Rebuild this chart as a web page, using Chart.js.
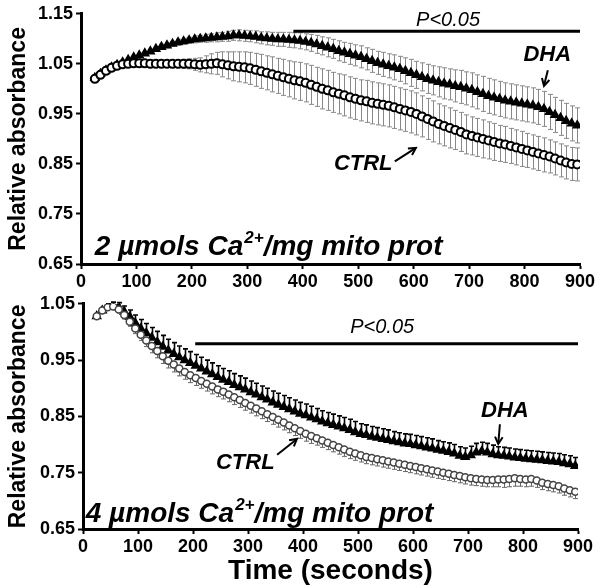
<!DOCTYPE html>
<html><head><meta charset="utf-8">
<script src="https://cdn.jsdelivr.net/npm/chart.js@4.4.1/dist/chart.umd.min.js"></script>
<style>
html,body{margin:0;padding:0;background:#fff;width:602px;height:588px;overflow:hidden}
#c1{position:absolute;left:0;top:0}
#c2{position:absolute;left:0;top:290px}
</style></head><body>
<canvas id="c1" width="602" height="290"></canvas>
<canvas id="c2" width="602" height="298"></canvas>
<script>
const FAM = '"Liberation Sans", Arial, sans-serif';

const times = [25,35,45,55,65,75,85,95,105,115,
  125,135,145,155,165,175,185,195,205,215,
  225,235,245,255,265,275,285,295,305,315,
  325,335,345,355,365,375,385,395,405,415,
  425,435,445,455,465,475,485,495,505,515,
  525,535,545,555,565,575,585,595,605,615,
  625,635,645,655,665,675,685,695,705,715,
  725,735,745,755,765,775,785,795,805,815,
  825,835,845,855,865,875,885,895];

const topCtrl = [1.020,1.028,1.036,1.042,1.046,1.049,1.050,1.051,1.051,1.051,
  1.050,1.050,1.050,1.050,1.050,1.050,1.050,1.050,1.049,1.048,
  1.049,1.050,1.051,1.049,1.047,1.045,1.044,1.043,1.041,1.038,
  1.035,1.032,1.029,1.026,1.023,1.020,1.017,1.015,1.012,1.008,
  1.004,1.000,0.997,0.993,0.990,0.987,0.983,0.980,0.977,0.975,
  0.972,0.970,0.968,0.966,0.963,0.960,0.957,0.954,0.950,0.945,
  0.940,0.935,0.930,0.926,0.922,0.918,0.914,0.909,0.906,0.903,
  0.900,0.897,0.894,0.891,0.889,0.886,0.883,0.880,0.877,0.874,
  0.871,0.868,0.865,0.861,0.857,0.853,0.850,0.849];
const topCtrlErr = [.004,.004,.004,.004,.004,.005,.005,.005,.005,.005,
  .005,.005,.006,.006,.007,.008,.009,.010,.012,.014,
  .017,.020,.022,.025,.027,.029,.030,.031,.032,.033,
  .034,.034,.035,.035,.036,.036,.037,.038,.038,.039,
  .039,.040,.040,.040,.040,.041,.041,.041,.041,.042,
  .042,.042,.042,.042,.042,.042,.042,.042,.042,.041,
  .041,.041,.040,.040,.040,.039,.039,.039,.038,.038,
  .038,.037,.037,.036,.036,.035,.035,.035,.034,.034,
  .034,.034,.033,.033,.033,.033,.033,.033];
const topDha = [1.022,1.030,1.037,1.043,1.048,1.053,1.058,1.063,1.067,1.071,
  1.075,1.080,1.084,1.087,1.090,1.093,1.095,1.097,1.099,1.100,
  1.101,1.102,1.103,1.104,1.105,1.107,1.107,1.106,1.105,1.104,
  1.102,1.101,1.100,1.099,1.099,1.098,1.097,1.096,1.094,1.092,
  1.089,1.086,1.083,1.080,1.076,1.073,1.070,1.067,1.064,1.060,
  1.056,1.052,1.049,1.046,1.043,1.040,1.036,1.032,1.028,1.024,
  1.020,1.017,1.014,1.011,1.009,1.006,1.004,1.001,0.998,0.994,
  0.990,0.986,0.983,0.980,0.977,0.975,0.973,0.971,0.969,0.967,
  0.964,0.960,0.954,0.948,0.942,0.936,0.931,0.927];
const topDhaErr = [.003,.003,.003,.003,.003,.003,.003,.004,.004,.004,
  .004,.005,.005,.005,.005,.006,.006,.006,.007,.007,
  .008,.008,.009,.009,.010,.010,.011,.011,.011,.012,
  .012,.013,.013,.014,.014,.015,.015,.016,.016,.017,
  .018,.018,.019,.019,.020,.020,.021,.021,.022,.022,
  .023,.023,.024,.024,.025,.025,.026,.027,.027,.028,
  .029,.029,.030,.031,.031,.032,.033,.033,.034,.034,
  .035,.035,.035,.035,.035,.035,.035,.035,.035,.035,
  .035,.035,.035,.035,.035,.035,.035,.035];

const botCtrl = [1.028,1.038,1.044,1.045,1.040,1.030,1.018,1.006,0.995,0.985,
  0.975,0.966,0.957,0.949,0.942,0.935,0.929,0.923,0.918,0.913,
  0.908,0.903,0.898,0.894,0.889,0.884,0.879,0.874,0.869,0.864,
  0.859,0.854,0.849,0.844,0.839,0.834,0.829,0.824,0.819,0.815,
  0.811,0.807,0.803,0.799,0.795,0.791,0.787,0.784,0.781,0.778,
  0.776,0.774,0.772,0.770,0.768,0.766,0.764,0.762,0.760,0.758,
  0.756,0.754,0.752,0.750,0.748,0.746,0.744,0.742,0.740,0.739,
  0.738,0.737,0.737,0.738,0.738,0.739,0.740,0.739,0.738,0.739,
  0.736,0.732,0.730,0.728,0.726,0.722,0.719,0.716];
const botCtrlErr = [.002,.003,.004,.005,.006,.007,.008,.009,.010,.011,
  .012,.012,.013,.013,.013,.013,.013,.013,.013,.013,
  .013,.013,.013,.013,.013,.013,.013,.013,.013,.013,
  .013,.013,.013,.013,.013,.013,.013,.013,.013,.013,
  .012,.012,.012,.012,.012,.012,.012,.012,.012,.012,
  .012,.012,.012,.012,.012,.012,.012,.012,.012,.012,
  .012,.012,.012,.012,.012,.012,.012,.012,.012,.012,
  .012,.012,.012,.013,.014,.014,.014,.013,.013,.013,
  .012,.012,.012,.012,.012,.012,.012,.012];
const botDha = [1.028,1.038,1.045,1.047,1.044,1.036,1.027,1.016,1.006,0.998,
  0.990,0.982,0.974,0.967,0.961,0.955,0.950,0.945,0.940,0.935,
  0.930,0.925,0.920,0.915,0.911,0.906,0.902,0.898,0.893,0.889,
  0.884,0.880,0.875,0.871,0.867,0.863,0.859,0.855,0.852,0.848,
  0.845,0.841,0.838,0.835,0.832,0.829,0.826,0.822,0.819,0.817,
  0.814,0.812,0.810,0.808,0.806,0.804,0.802,0.801,0.799,0.797,
  0.795,0.793,0.791,0.789,0.787,0.784,0.780,0.778,0.781,0.786,
  0.788,0.786,0.783,0.781,0.780,0.779,0.777,0.776,0.775,0.774,
  0.773,0.772,0.771,0.770,0.769,0.767,0.765,0.762];
const botDhaErr = [.003,.004,.005,.006,.008,.010,.012,.014,.016,.017,
  .018,.019,.020,.020,.020,.020,.020,.020,.020,.020,
  .020,.020,.020,.020,.020,.020,.020,.020,.020,.020,
  .020,.020,.020,.020,.020,.020,.020,.020,.020,.020,
  .019,.019,.019,.019,.019,.019,.019,.019,.018,.018,
  .018,.018,.018,.018,.017,.017,.017,.017,.017,.017,
  .017,.017,.016,.016,.016,.016,.016,.016,.016,.016,
  .016,.016,.016,.015,.015,.015,.015,.015,.015,.015,
  .015,.015,.015,.015,.015,.015,.015,.015];

const xTicks = [0,100,200,300,400,500,600,700,800,900];
const topYTicks = [0.65,0.75,0.85,0.95,1.05,1.15];
const botYTicks = [0.65,0.75,0.85,0.95,1.05];
const seriesNames = ['CTRL','DHA'];
const sigLabel = 'P<0.05';
const panelLabels = [['2 µmols Ca','2+','/mg mito prot'],['4 µmols Ca','2+','/mg mito prot']];
const yTitle = 'Relative absorbance';
const xTitle = 'Time (seconds)';

function pts(vals){ return vals.map((v,i)=>({x:times[i], y:v})); }

const errPlugin = {
  id:'errbars',
  beforeDatasetsDraw(chart){
    const ctx = chart.ctx, xs = chart.scales.x, ys = chart.scales.y;
    chart.data.datasets.forEach(ds=>{
      const e = ds.errors; if(!e) return;
      ctx.save(); ctx.strokeStyle = ds.errColor; ctx.lineWidth = ds.errWidth || 1;
      ctx.beginPath();
      ds.data.forEach((p,i)=>{
        const px = Math.round(xs.getPixelForValue(p.x))+0.5;
        const yu = ys.getPixelForValue(ds.errDir==='down'? p.y : p.y+e[i]);
        const yd = ys.getPixelForValue(ds.errDir==='up'? p.y : p.y-e[i]);
        ctx.moveTo(px,yu); ctx.lineTo(px,yd);
        if(ds.errDir!=='down'){ ctx.moveTo(px-2.5,yu); ctx.lineTo(px+2.5,yu); }
        if(ds.errDir!=='up'){ ctx.moveTo(px-2.5,yd); ctx.lineTo(px+2.5,yd); }
      });
      ctx.stroke(); ctx.restore();
    });
  }
};

const notePlugin = {
  id:'notes',
  afterDatasetsDraw(chart, args, opts){
    const ctx = chart.ctx, xs = chart.scales.x, ys = chart.scales.y;
    const X = t=>xs.getPixelForValue(t), Y = v=>ys.getPixelForValue(v);
    ctx.save();
    (opts.items||[]).forEach(it=>{
      ctx.fillStyle='#000'; ctx.strokeStyle='#000';
      if(it.type==='line'){
        ctx.lineWidth = 3; ctx.beginPath();
        ctx.moveTo(X(it.t0),Y(it.v)); ctx.lineTo(X(it.t1),Y(it.v)); ctx.stroke();
      } else if(it.type==='text'){
        ctx.font = it.font; ctx.textAlign='center'; ctx.textBaseline='middle';
        ctx.fillText(it.text, X(it.t), Y(it.v));
      } else if(it.type==='arrow'){
        const x0=X(it.t0), y0=Y(it.v0), x1=X(it.t1), y1=Y(it.v1);
        ctx.lineWidth = 2; ctx.beginPath(); ctx.moveTo(x0,y0); ctx.lineTo(x1,y1); ctx.stroke();
        const a = Math.atan2(y1-y0, x1-x0), L = 8;
        ctx.beginPath();
        ctx.moveTo(x1 - L*Math.cos(a-0.5), y1 - L*Math.sin(a-0.5));
        ctx.lineTo(x1,y1);
        ctx.lineTo(x1 - L*Math.cos(a+0.5), y1 - L*Math.sin(a+0.5));
        ctx.stroke();
      } else if(it.type==='rich'){
        let x = X(it.t); const y = Y(it.v);
        ctx.textAlign='left'; ctx.textBaseline='alphabetic';
        const big = 'italic bold '+it.size+'px '+FAM;
        const small = 'italic bold '+Math.round(it.size*0.6)+'px '+FAM;
        ctx.font = big; ctx.fillText(it.parts[0], x, y); x += ctx.measureText(it.parts[0]).width;
        ctx.font = small; ctx.fillText(it.parts[1], x+1, y - it.size*0.42); x += ctx.measureText(it.parts[1]).width+1;
        ctx.font = big; ctx.fillText(it.parts[2], x, y);
      }
    });
    ctx.restore();
  }
};

function makeChart(id, cfg){
  return new Chart(document.getElementById(id), {
    type:'scatter',
    data:{ datasets:[
      { label:seriesNames[0], data:pts(cfg.ctrl), errors:cfg.ctrlErr, errColor:cfg.ctrlErrColor, errDir:cfg.ctrlDir, errWidth:1,
        pointStyle:'circle', pointRadius:cfg.ctrlR, backgroundColor:'#fff', borderColor:cfg.ctrlBorder, borderWidth:cfg.ctrlBW, showLine:false },
      { label:seriesNames[1], data:pts(cfg.dha), errors:cfg.dhaErr, errColor:cfg.dhaErrColor, errDir:cfg.dhaDir, errWidth:cfg.dhaErrW,
        pointStyle:'triangle', pointRadius:4.6, backgroundColor:'#000', borderColor:'#000', borderWidth:1.5, showLine:false }
    ]},
    options:{
      responsive:false, animation:false, events:[],
      layout:{ padding:{ top:cfg.padTop, right:cfg.padRight, left:0, bottom:0 } },
      plugins:{ legend:{display:false}, tooltip:{enabled:false}, notes:{ items:cfg.notes } },
      scales:{
        x:{ type:'linear', min:0, max:900,
          afterBuildTicks:s=>{ s.ticks = xTicks.map(v=>({value:v})); },
          afterFit:s=>{ s.height = cfg.xh; },
          ticks:{ color:'#000', font:{family:FAM, size:18, weight:'bold'}, padding:2, maxRotation:0, autoSkip:false },
          grid:{ display:true, drawOnChartArea:false, drawTicks:true, tickLength:5, tickWidth:2, tickColor:'#000' },
          border:{ display:true, color:'#000', width:3 },
          title:{ display:cfg.xTitle, text:xTitle, color:'#000', font:{family:FAM, size:28, weight:'bold'}, padding:{top:0,bottom:0} }
        },
        y:{ type:'linear', min:cfg.ymin, max:cfg.ymax,
          afterBuildTicks:s=>{ s.ticks = cfg.yTicks.map(v=>({value:v})); },
          afterFit:s=>{ s.width = cfg.yw; },
          ticks:{ color:'#000', font:{family:FAM, size:18, weight:'bold'}, padding:3, callback:v=>v.toFixed(2) },
          grid:{ display:true, drawOnChartArea:false, drawTicks:true, tickLength:5, tickWidth:2, tickColor:'#000' },
          border:{ display:true, color:'#000', width:3 },
          title:{ display:true, text:yTitle, color:'#000', font:{family:FAM, size:23, weight:'bold'}, padding:{top:5,bottom:0} }
        }
      }
    },
    plugins:[errPlugin, notePlugin]
  });
}

makeChart('c1', {
  ctrl:topCtrl, ctrlErr:topCtrlErr, ctrlErrColor:'#888', ctrlBorder:'#000', ctrlDir:'both', ctrlR:4, ctrlBW:2,
  dha:topDha, dhaErr:topDhaErr, dhaErrColor:'#888', dhaDir:'both', dhaErrW:1,
  padTop:10, padRight:22, xh:26, yw:81, ymin:0.65, ymax:1.15, yTicks:topYTicks, xTitle:false,
  notes:[
    {type:'line', t0:383, t1:900, v:1.115},
    {type:'text', text:sigLabel, t:662, v:1.136, font:'italic 20px '+FAM},
    {type:'text', text:seriesNames[1], t:841, v:1.067, font:'italic bold 22px '+FAM},
    {type:'arrow', t0:842, v0:1.037, t1:835, v1:1.006},
    {type:'text', text:seriesNames[0], t:509, v:0.849, font:'italic bold 22px '+FAM},
    {type:'arrow', t0:566, v0:0.855, t1:604, v1:0.882},
    {type:'rich', parts:panelLabels[0], t:25, v:0.668, size:28}
  ]
});

makeChart('c2', {
  ctrl:botCtrl, ctrlErr:botCtrlErr, ctrlErrColor:'#666', ctrlBorder:'#444', ctrlDir:'down', ctrlR:3.5, ctrlBW:1.5,
  dha:botDha, dhaErr:botDhaErr, dhaErrColor:'#000', dhaDir:'up', dhaErrW:1.6,
  padTop:9, padRight:24, xh:59, yw:83, ymin:0.65, ymax:1.05, yTicks:botYTicks, xTitle:true,
  notes:[
    {type:'line', t0:204, t1:900, v:0.979},
    {type:'text', text:sigLabel, t:544, v:1.008, font:'italic 20px '+FAM},
    {type:'text', text:seriesNames[1], t:767, v:0.860, font:'italic bold 22px '+FAM},
    {type:'arrow', t0:758, v0:0.836, t1:755, v1:0.801},
    {type:'text', text:seriesNames[0], t:295, v:0.767, font:'italic bold 22px '+FAM},
    {type:'arrow', t0:353, v0:0.782, t1:389, v1:0.810},
    {type:'rich', parts:panelLabels[1], t:5, v:0.662, size:28}
  ]
});
</script>
</body></html>
